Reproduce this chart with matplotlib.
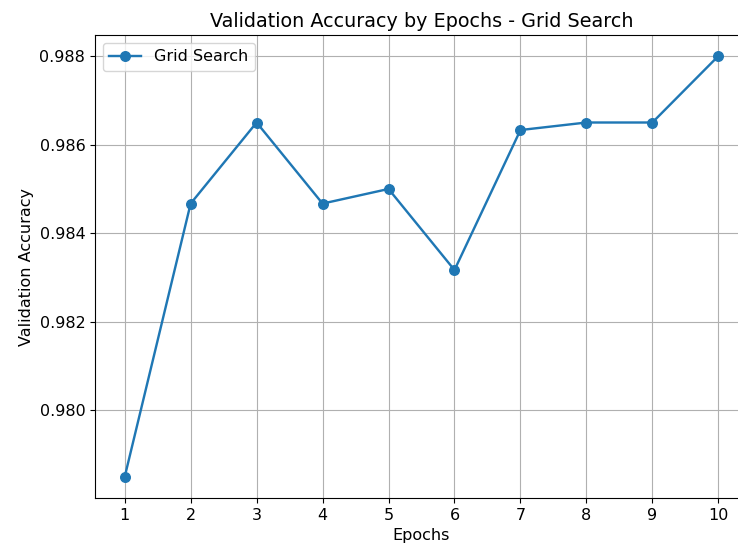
import matplotlib.pyplot as plt

# validation accuracy per epoch
epochs = [1, 2, 3, 4, 5, 6, 7, 8, 9, 10]
val_acc = [0.9785, 0.98467, 0.9865, 0.98467, 0.985, 0.98317, 0.98633, 0.9865, 0.9865, 0.988]

s = 1.15  # scale from default look
fig = plt.figure(figsize=(7.38, 5.5), dpi=100)
ax = fig.add_axes([95/738, 52/550, (748-95)/738, (498-35)/550])

ax.plot(epochs, val_acc, marker='o', label='Grid Search', markersize=6*s, linewidth=1.5*s)
ax.set_title("Validation Accuracy by Epochs - Grid Search", fontsize=12*s)
ax.set_xlabel("Epochs", fontsize=10*s)
ax.set_ylabel("Validation Accuracy", fontsize=10*s)
ax.set_xticks(epochs)
ax.tick_params(labelsize=10*s)
ax.grid(True)
ax.legend(loc='upper left', fontsize=10*s)

fig.savefig("out.png", dpi=100)
